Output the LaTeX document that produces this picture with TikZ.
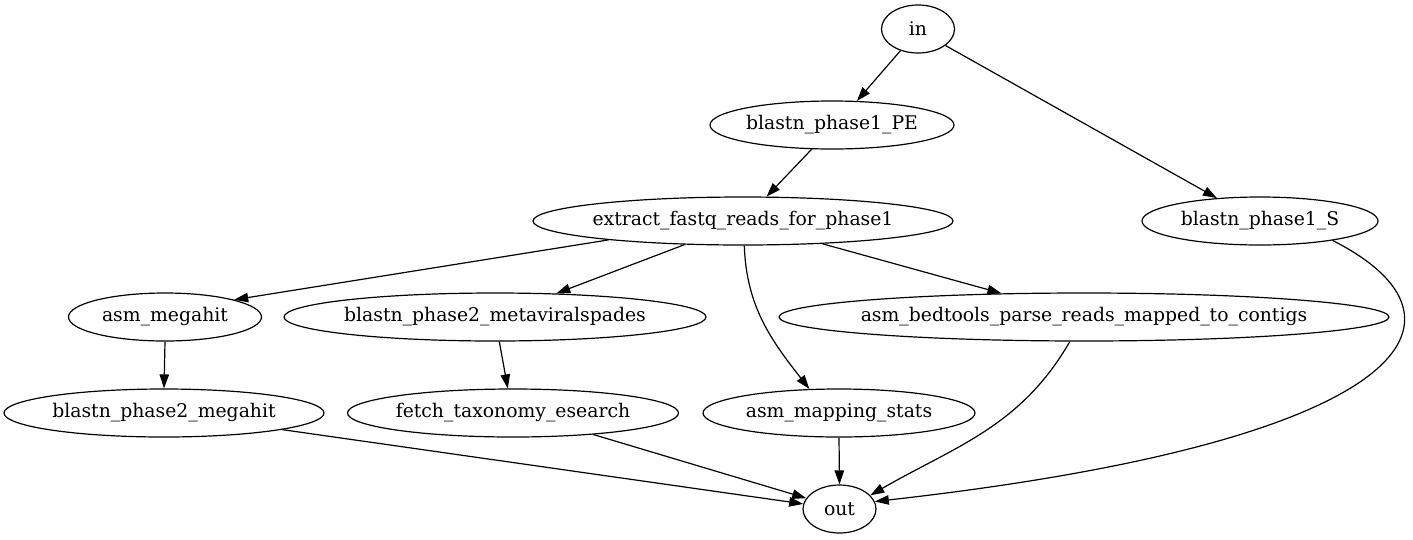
\documentclass[tikz,border=0pt]{standalone}
\usepackage{fontspec}
\setmainfont{DejaVu Serif}
\usetikzlibrary{shapes.geometric,arrows.meta}
\newcommand\zlbl[1]{\makebox[0pt]{#1}}
\begin{document}
\begin{tikzpicture}[x=1pt,y=1pt,
  gnode/.style={draw, ellipse, inner sep=0pt, line width=1.2pt, minimum height=48pt,
    font=\fontsize{18.8}{22}\selectfont},
  edge/.style={-{Triangle[length=14pt,width=9.5pt]}, line width=1.2pt}]
\useasboundingbox (0,0) rectangle (1413,-539);
\node[gnode, minimum width=73pt] (nin) at (918,-29) {\zlbl{in}};
\node[gnode, minimum width=244pt] (pe) at (832,-125) {\zlbl{blastn\_phase1\_PE}};
\node[gnode, minimum width=236pt] (s) at (1260,-221) {\zlbl{blastn\_phase1\_S}};
\node[gnode, minimum width=420pt] (ext) at (743,-221) {\zlbl{extract\_fastq\_reads\_for\_phase1}};
\node[gnode, minimum width=193pt] (meg) at (165,-317) {\zlbl{asm\_megahit}};
\node[gnode, minimum width=422pt] (mvs) at (495,-317) {\zlbl{blastn\_phase2\_metaviralspades}};
\node[gnode, minimum width=610pt] (bed) at (1084,-317) {\zlbl{asm\_bedtools\_parse\_reads\_mapped\_to\_contigs}};
\node[gnode, minimum width=320pt] (meg2) at (164,-413) {\zlbl{blastn\_phase2\_megahit}};
\node[gnode, minimum width=331pt] (fetch) at (513,-413) {\zlbl{fetch\_taxonomy\_esearch}};
\node[gnode, minimum width=272pt] (map) at (839,-413) {\zlbl{asm\_mapping\_stats}};
\node[gnode, minimum width=73pt] (nout) at (839.5,-509) {\zlbl{out}};

\draw[edge] (nin.231) -- (pe.44);
\draw[edge] (nin.329) -- (s.152);
\draw[edge] (pe.230) -- (ext.46);
\draw[edge] (ext.188) -- (meg.14);
\draw[edge] (ext.202) -- (mvs.21);
\draw[edge] (ext.273) to[out=272,in=128] (map.141);
\draw[edge] (ext.344) -- (bed.164);
\draw[edge] (s.345) .. controls +(154,-78) and +(543,61) .. (nout.12);
\draw[edge] (meg.270) -- (meg2.90);
\draw[edge] (mvs.280) -- (fetch.102);
\draw[edge] (bed.240) to[out=240,in=30] (nout.24);
\draw[edge] (meg2.352) -- (nout.172);
\draw[edge] (fetch.345) -- (nout.162);
\draw[edge] (map.270) -- (nout.90);
\end{tikzpicture}
\end{document}
